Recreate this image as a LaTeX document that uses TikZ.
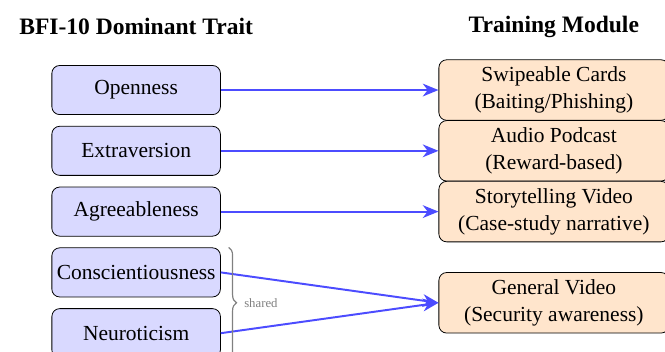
\documentclass[tikz,border=0pt,11pt]{standalone}
\usepackage{fontspec}
\setmainfont{Liberation Serif}
\usetikzlibrary{positioning,calc,arrows.meta,decorations.pathreplacing}

\begin{document}
\begin{tikzpicture} [
	node distance = 1.95mm and 3.9cm,
	trait/.style = {
		draw=black,
		rounded corners,
		fill=blue!15,
		inner xsep=2pt,
		minimum width=3.02cm,
		minimum height=0.88cm,
		align=center
	},
	module/.style = {
		draw=black,
		rounded corners,
		fill=orange!20,
		minimum width=4.12cm,
		minimum height=1.08cm,
		align=center
	},
	head/.style = {font=\large\bfseries},
	link/.style = {draw=blue!70, line width=1pt, -{Stealth[length=8pt,width=6.5pt,inset=2.5pt]}},
	brace/.style = {draw=gray, semithick, decorate, decoration={brace, amplitude=4pt}}
]
\useasboundingbox (0,0) rectangle (339pt,-179.4pt);

\node (open) [trait] at (69.4pt,-45.9pt) {Openness};
\node (extra) [trait, below=of open] {Extraversion};
\node (agree) [trait, below=of extra] {Agreeableness};
\node (consc) [trait, below=of agree] {Conscientiousness};
\node (neuro) [trait, below=of consc] {Neuroticism};

\node (swipe) [module, right=of open] {Swipeable Cards\\(Baiting/Phishing)};
\node (podcast) [module, right=of extra] {Audio Podcast\\(Reward-based)};
\node (story) [module, right=of agree] {Storytelling Video\\(Case-study narrative)};
\coordinate (pair) at ($(consc.east)!0.5!(neuro.east)$);
\node (general) [module, right=of pair] {General Video\\(Security awareness)};

\node (traithead) [head, above=4mm of open] {BFI-10 Dominant Trait};
\node (modhead) [head] at (traithead -| swipe) {Training Module};

\draw[link] (open.east) -- (swipe.west);
\draw[link] (extra.east) -- (podcast.west);
\draw[link] (agree.east) -- (story.west);
\draw[link] (consc.east) -- (general.west);
\draw[link] (neuro.east) -- (general.west);

\draw[brace] ([xshift=4pt]consc.north east) -- ([xshift=4pt]neuro.south east)
	node (sharedtag) [midway, right=4pt, font=\fontsize{6.5}{8}\selectfont, text=gray] {shared};

\end{tikzpicture}
\end{document}
